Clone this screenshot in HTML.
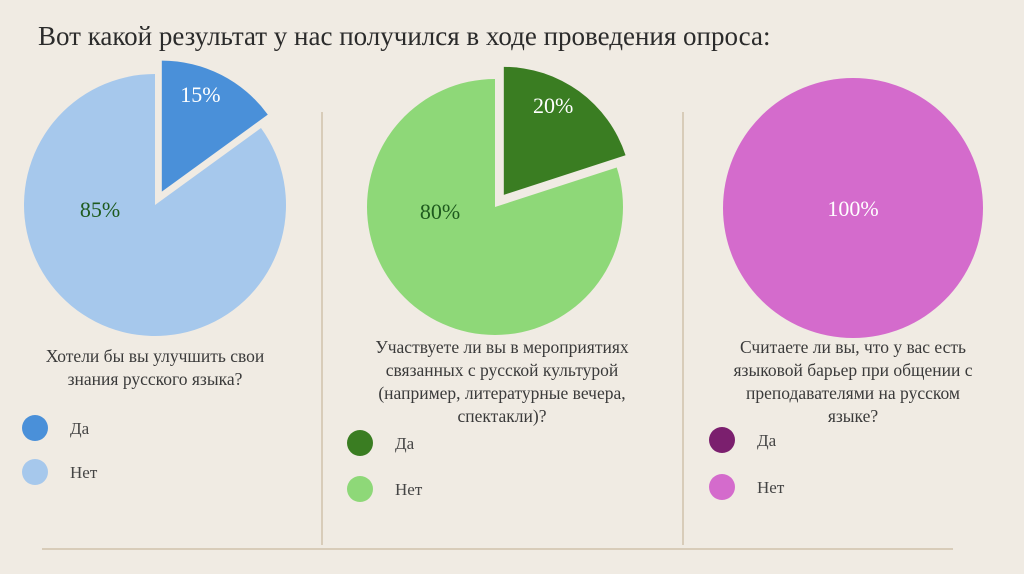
<!DOCTYPE html>
<html><head><meta charset="utf-8"><style>
body{margin:0;background:#f0ebe3;width:1024px;height:574px;overflow:hidden;font-family:"Liberation Serif",serif;}
svg{position:absolute;left:0;top:0}
</style></head><body>
<svg width="1024" height="574" id="s">
<text x="38" y="45" font-size="27" fill="#2b2b2b">Вот какой результат у нас получился в ходе проведения опроса:</text>
<line x1="322" y1="112" x2="322" y2="545" stroke="#d8ccb9" stroke-width="2"/>
<line x1="683" y1="112" x2="683" y2="545" stroke="#d8ccb9" stroke-width="2"/>
<line x1="42" y1="549" x2="953" y2="549" stroke="#d8ccb9" stroke-width="2"/>
<g id="charts"></g>
</svg>
<script>
const yesValues=[15,20,0];
const noValues=[85,80,100];
const yesLabels=["15%","20%",""];
const noLabels=["85%","80%","100%"];
const questions=[["Хотели бы вы улучшить свои","знания русского языка?"],["Участвуете ли вы в мероприятиях","связанных с русской культурой","(например, литературные вечера,","спектакли)?"],["Считаете ли вы, что у вас есть","языковой барьер при общении с","преподавателями на русском","языке?"]];
const legendNames=["Да","Нет"];
const NS="http://www.w3.org/2000/svg";
const layout=[{cx:155,cy:205,r:131,qx:155,qy:362,ly:[428,472],lx:35},{cx:495,cy:207,r:128,qx:502,qy:353,ly:[443,489],lx:360},{cx:853,cy:208,r:130,qx:853,qy:353,ly:[440,487],lx:722}];
const yesCol=["#4a90d9","#3a7d22","#7b1f6e"],noCol=["#a6c8ec","#8ed878","#d46bcc"];
const yesTxt=["#ffffff","#ffffff","#fff"],noTxt=["#1e5a1e","#1e5a1e","#ffffff"];
const g=document.getElementById('charts');
function mk(t,a,p){const e=document.createElementNS(NS,t);for(const k in a)e.setAttribute(k,a[k]);(p||g).appendChild(e);return e;}
function pt(cx,cy,r,a){return [cx+r*Math.sin(a),cy-r*Math.cos(a)];}
function slice(cx,cy,r,a0,a1,fill){
  if(a1-a0>=2*Math.PI-1e-6)return mk('circle',{cx:cx,cy:cy,r:r,fill:fill});
  const p0=pt(cx,cy,r,a0),p1=pt(cx,cy,r,a1),lg=(a1-a0)>Math.PI?1:0;
  return mk('path',{d:`M${cx},${cy}L${p0[0]},${p0[1]}A${r},${r} 0 ${lg} 1 ${p1[0]},${p1[1]}Z`,fill:fill});
}
for(let i=0;i<3;i++){
  const L=layout[i],tot=yesValues[i]+noValues[i];
  const ay=yesValues[i]/tot*2*Math.PI;
  if(noValues[i]>0){const s=slice(L.cx,L.cy,L.r,ay,2*Math.PI,noCol[i]);
    
    let tx=L.cx,ty=L.cy+8;
    if(yesValues[i]>0){tx=L.cx-55;ty=L.cy+12;}
    const t=mk('text',{x:tx,y:ty,'font-size':22,'text-anchor':'middle',fill:noTxt[i]});t.textContent=noLabels[i];
    }
  if(yesValues[i]>0){const m=ay/2,off=pt(0,0,15,m);
    const s=slice(L.cx+off[0],L.cy+off[1],L.r,0,ay,yesCol[i]);
    
    const tp=pt(L.cx+off[0],L.cy+off[1],L.r*0.8,m*0.8);
    const t=mk('text',{x:tp[0],y:tp[1]+8,'font-size':22,'text-anchor':'middle',fill:yesTxt[i]});t.textContent=yesLabels[i];
    }
  questions[i].forEach((ln,j)=>{const t=mk('text',{x:L.qx,y:L.qy+j*23,'font-size':17.5,'text-anchor':'middle',fill:'#3a3a3a'});t.textContent=ln;
    });
  [yesCol[i],noCol[i]].forEach((c,j)=>{const cc=mk('circle',{cx:L.lx,cy:L.ly[j],r:13,fill:c});
    
    const t=mk('text',{x:L.lx+35,y:L.ly[j]+6,'font-size':17,fill:'#444'});t.textContent=legendNames[j];
    });
}
</script>
</body></html>
